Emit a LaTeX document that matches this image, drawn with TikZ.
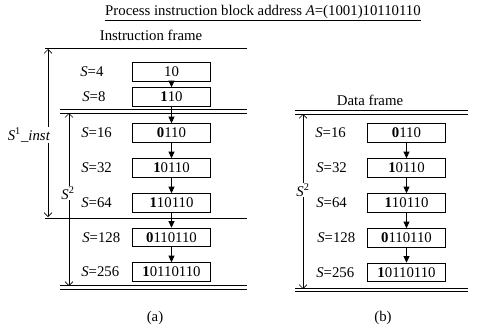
\documentclass[tikz,border=0pt]{standalone}
\usepackage{fontspec}
\setmainfont{Liberation Serif}
\usetikzlibrary{arrows.meta}

\begin{document}
\begin{tikzpicture}[x=0.75pt,y=-0.75pt,font=\fontsize{11.1}{13}\selectfont,
    blk/.style={draw,line width=0.6pt,minimum width=59pt,minimum height=14pt,inner sep=0pt},
    lbl/.style={anchor=west,inner sep=0pt},
    nxt/.style={-{Triangle[length=5pt,width=4.5pt]},line width=0.6pt},
    span/.style={{Straight Barb[length=3pt]}-{Straight Barb[length=3pt]},line width=0.5pt},
    dbl/.style={double,double distance=2.2pt,line width=0.6pt},
    sgl/.style={line width=0.7pt}]
        \useasboundingbox (0,0) rectangle (479,332);

        % titles
        \node (title) at (263,13) {\underline{Process instruction block address \textit{A}=(1001)10110110}};
        \node (iframe) at (151,35) {Instruction frame};
        \node (dframe) at (370,100) {Data frame};

        % (a) instruction frame
        \draw[sgl] (45,48) -- (247,48);
        \draw[dbl] (60,111.5) -- (247,111.5);
        \draw[sgl] (45,218) -- (247,218);
        \draw[dbl] (60,287.5) -- (247,287.5);

        \node[blk] (a4) at (171.5,72) {10};
        \node[blk] (a8) at (171.5,97) {\textbf{1}10};
        \node[blk] (a16) at (171.5,133) {\textbf{0}110};
        \node[blk] (a32) at (171.5,168) {\textbf{1}0110};
        \node[blk] (a64) at (171.5,203) {\textbf{1}10110};
        \node[blk] (a128) at (171.5,237.5) {\textbf{0}110110};
        \node[blk] (a256) at (171.5,272) {\textbf{1}0110110};

        \node[lbl] (la4) at (80,72) {\textit{S}=4};
        \node[lbl] (la8) at (82,97) {\textit{S}=8};
        \node[lbl] (la16) at (81,133) {\textit{S}=16};
        \node[lbl] (la32) at (81,168) {\textit{S}=32};
        \node[lbl] (la64) at (81,203) {\textit{S}=64};
        \node[lbl] (la128) at (82,237.5) {\textit{S}=128};
        \node[lbl] (la256) at (81,272) {\textit{S}=256};

        \draw[nxt] (a4) -- (a8);
        \draw[nxt] (a8) -- (a16);
        \draw[nxt] (a16) -- (a32);
        \draw[nxt] (a32) -- (a64);
        \draw[nxt] (a64) -- (a128);
        \draw[nxt] (a128) -- (a256);

        \coordinate (s1top) at (48,49);
        \coordinate (s1bot) at (48,217);
        \draw[span] (s1top) -- (s1bot);
        \node[fill=white,inner sep=1pt] (s1) at (29,135) {\textit{S}\textsuperscript{1}\textit{\_inst}};

        \coordinate (s2atop) at (69,113);
        \coordinate (s2abot) at (69,286);
        \draw[span] (s2atop) -- (s2abot);
        \node[fill=white,inner sep=1pt] (s2a) at (68,193) {\textit{S}\textsuperscript{2}};

        % (b) data frame
        \draw[dbl] (295,112.5) -- (468,112.5);
        \draw[dbl] (295,290) -- (468,290);

        \node[blk] (b16) at (406.5,133) {\textbf{0}110};
        \node[blk] (b32) at (406.5,168) {\textbf{1}0110};
        \node[blk] (b64) at (406.5,203) {\textbf{1}10110};
        \node[blk] (b128) at (406.5,238) {\textbf{0}110110};
        \node[blk] (b256) at (406.5,272.5) {\textbf{1}0110110};

        \node[lbl] (lb16) at (315,133) {\textit{S}=16};
        \node[lbl] (lb32) at (316,168) {\textit{S}=32};
        \node[lbl] (lb64) at (316,203) {\textit{S}=64};
        \node[lbl] (lb128) at (317,238) {\textit{S}=128};
        \node[lbl] (lb256) at (316,272.5) {\textit{S}=256};

        \draw[nxt] (b16) -- (b32);
        \draw[nxt] (b32) -- (b64);
        \draw[nxt] (b64) -- (b128);
        \draw[nxt] (b128) -- (b256);

        \coordinate (s2btop) at (303,114);
        \coordinate (s2bbot) at (303,289);
        \draw[span] (s2btop) -- (s2bbot);
        \node[fill=white,inner sep=1pt] (s2b) at (303,190) {\textit{S}\textsuperscript{2}};

        % captions
        \node (capa) at (155,318) {(a)};
        \node (capb) at (383,318) {(b)};
\end{tikzpicture}
\end{document}
